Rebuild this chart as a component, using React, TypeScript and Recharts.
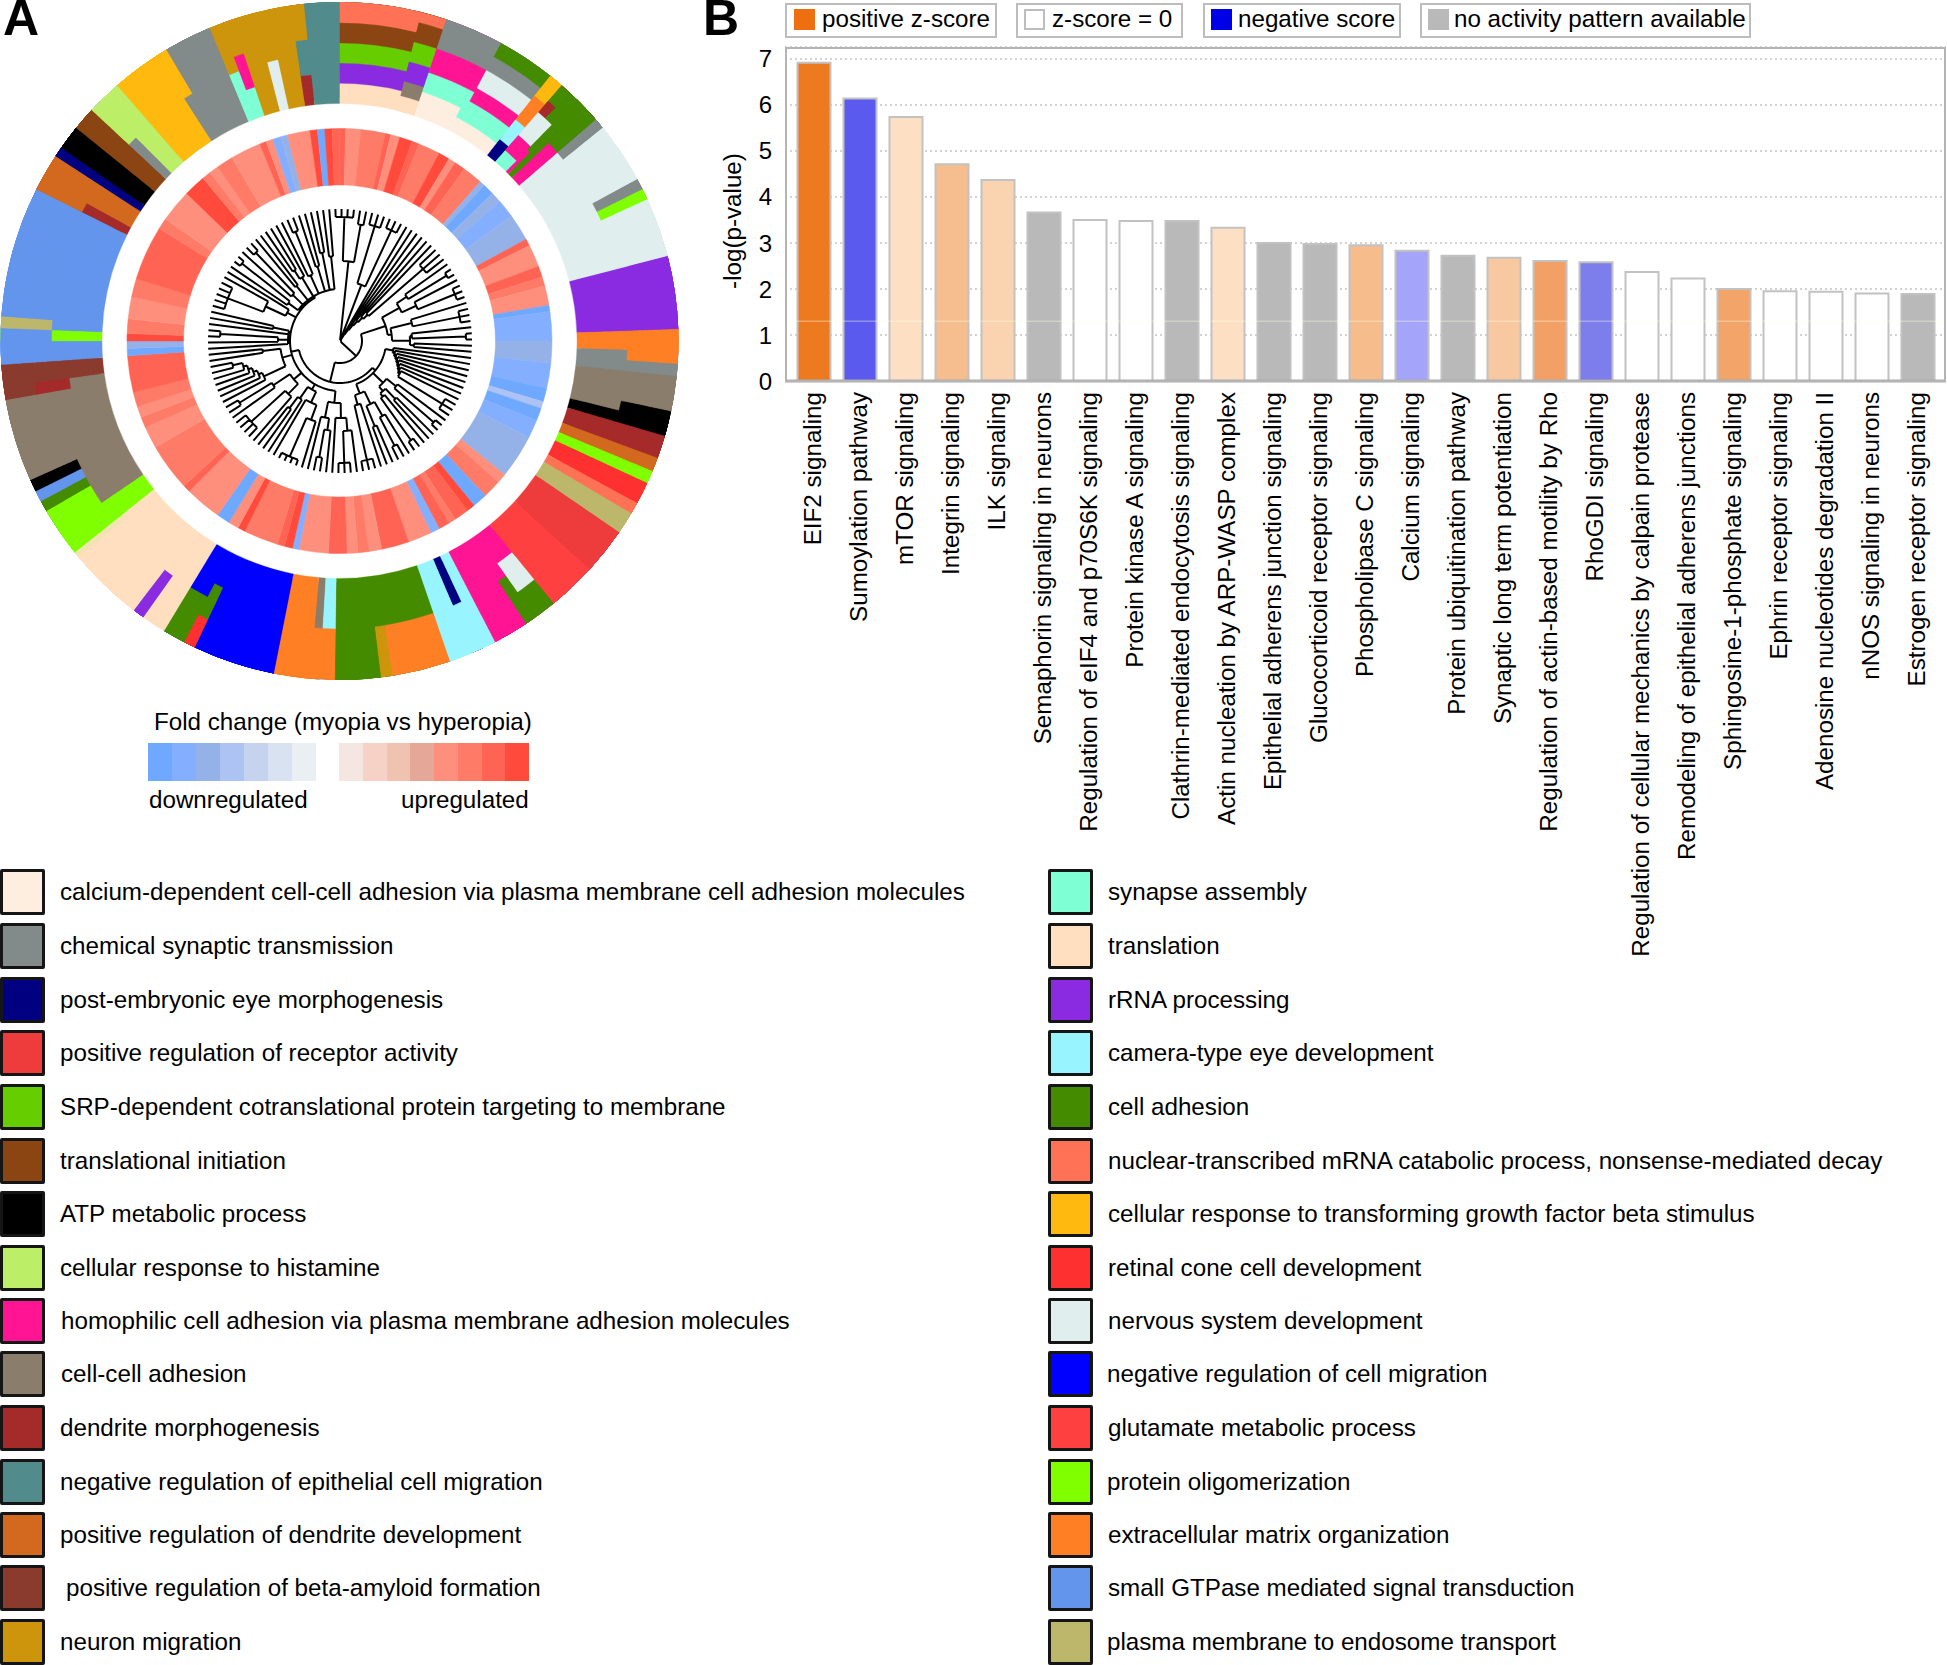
import React from 'react';
import { Bar, BarChart, CartesianGrid, Cell, Line, LineChart, Pie, PieChart, ReferenceLine, XAxis, YAxis } from 'recharts';

const FONT = '"Liberation Sans", Arial, sans-serif';
const TEXT_SIZE = 24.2;

// panel B
const pathways = [
  'EIF2 signaling', 'Sumoylation pathway', 'mTOR signaling', 'Integrin signaling', 'ILK signaling',
  'Semaphorin signaling in neurons', 'Regulation of eIF4 and p70S6K signaling', 'Protein kinase A signaling',
  'Clathrin-mediated endocytosis signaling', 'Actin nucleation by ARP-WASP complex',
  'Epithelial adherens junction signaling', 'Glucocorticoid receptor signaling', 'Phospholipase C signaling',
  'Calcium signaling', 'Protein ubiquitination pathway', 'Synaptic long term potentiation',
  'Regulation of actin-based motility by Rho', 'RhoGDI signaling', 'Regulation of cellular mechanics by calpain protease',
  'Remodeling of epithelial adherens junctions', 'Sphingosine-1-phosphate signaling', 'Ephrin receptor signaling',
  'Adenosine nucleotides degradation II', 'nNOS signaling in neurons', 'Estrogen receptor signaling',
];
const logP = [6.92, 6.14, 5.74, 4.71, 4.37, 3.66, 3.5, 3.48, 3.48, 3.33, 3.0, 2.98, 2.95, 2.83, 2.72, 2.68, 2.61, 2.58, 2.37, 2.23, 2.0, 1.95, 1.94, 1.9, 1.89];
const barFills = [
  '#ee7a20', '#5a5aee', '#fde0c4', '#f6bd8f', '#fad3b0', '#b9b9b9', '#ffffff', '#ffffff', '#b9b9b9', '#fde0c4',
  '#b9b9b9', '#b9b9b9', '#f6bc8c', '#a4a4fa', '#b9b9b9', '#f8c9a0', '#f3a066', '#7d7dec', '#ffffff', '#ffffff',
  '#f3a468', '#ffffff', '#ffffff', '#ffffff', '#b9b9b9',
];
const yTicks = [0, 1, 2, 3, 4, 5, 6, 7];
const barRows = pathways.map((name, i) => ({ name, value: logP[i] }));

const zLegend = [
  { label: 'positive z-score', fill: '#ee6f10', box: [785, 212], swatch: 794, text: 822 },
  { label: 'z-score = 0', fill: '#ffffff', box: [1016, 167], swatch: 1024, text: 1052 },
  { label: 'negative score', fill: '#0000e6', box: [1203, 198], swatch: 1211, text: 1238 },
  { label: 'no activity pattern available', fill: '#b9b9b9', box: [1420, 331], swatch: 1428, text: 1454 },
];

// GO terms
const termColors: Record<string, string> = {
  calcium: '#fdeee0', chemical: '#828a8a', postEmb: '#000080', recActivity: '#ee3b3b', srp: '#66cd00',
  transInit: '#8b4513', atp: '#000000', histamine: '#bcee68', homophilic: '#ff1493', cellCell: '#8b7d6b',
  dendrite: '#a52a2a', epiMig: '#528b8b', dendDev: '#d2691e', amyloid: '#8b3a2e', neuronMig: '#cd950c',
  synapse: '#7fffd4', translation: '#ffdfc0', rRNA: '#8a2be2', camera: '#98f5ff', cellAd: '#458b00',
  nmd: '#ff7256', tgf: '#ffb90f', cone: '#ff3030', nervous: '#e0eeee', negMig: '#0000ff',
  glutamate: '#ff4040', oligomer: '#7fff00', ecm: '#ff7f24', gtpase: '#6495ed', endosome: '#bdb76b',
  sliver: '#f3e3b2',
};
const leftTerms: [string, string][] = [
  ['calcium', 'calcium-dependent cell-cell adhesion via plasma membrane cell adhesion molecules'],
  ['chemical', 'chemical synaptic transmission'],
  ['postEmb', 'post-embryonic eye morphogenesis'],
  ['recActivity', 'positive regulation of receptor activity'],
  ['srp', 'SRP-dependent cotranslational protein targeting to membrane'],
  ['transInit', 'translational initiation'],
  ['atp', 'ATP metabolic process'],
  ['histamine', 'cellular response to histamine'],
  ['homophilic', 'homophilic cell adhesion via plasma membrane adhesion molecules'],
  ['cellCell', 'cell-cell adhesion'],
  ['dendrite', 'dendrite morphogenesis'],
  ['epiMig', 'negative regulation of epithelial cell migration'],
  ['dendDev', 'positive regulation of dendrite development'],
  ['amyloid', 'positive regulation of beta-amyloid formation'],
  ['neuronMig', 'neuron migration'],
];
const rightTerms: [string, string][] = [
  ['synapse', 'synapse assembly'],
  ['translation', 'translation'],
  ['rRNA', 'rRNA processing'],
  ['camera', 'camera-type eye development'],
  ['cellAd', 'cell adhesion'],
  ['nmd', 'nuclear-transcribed mRNA catabolic process, nonsense-mediated decay'],
  ['tgf', 'cellular response to transforming growth factor beta stimulus'],
  ['cone', 'retinal cone cell development'],
  ['nervous', 'nervous system development'],
  ['negMig', 'negative regulation of cell migration'],
  ['glutamate', 'glutamate metabolic process'],
  ['oligomer', 'protein oligomerization'],
  ['ecm', 'extracellular matrix organization'],
  ['gtpase', 'small GTPase mediated signal transduction'],
  ['endosome', 'plasma membrane to endosome transport'],
];
const rowCenters = [892, 946, 1000, 1053, 1107, 1161, 1214, 1268, 1321, 1374, 1428, 1482, 1535, 1588, 1642];
const labelNudge: Record<string, number> = { amyloid: 6, homophilic: 1, cellCell: 1, negMig: -1, oligomer: -1, endosome: -1 };

// outer ring: sector end angle (deg clockwise from 12 o'clock), then term + thickness from the inside out
const goSectors: [number, ...(string | number)[]][] = [
  [14, 'translation', 4, 'rRNA', 4, 'srp', 4, 'transInit', 4, 'nmd', 4],
  [18.4, 'translation', 3, 'cellCell', 3, 'rRNA', 4, 'srp', 4, 'transInit', 4, 'nmd', 2],
  [27.5, 'calcium', 5, 'synapse', 4, 'homophilic', 5, 'chemical', 6],
  [28.5, 'calcium', 3, 'synapse', 6, 'homophilic', 5, 'chemical', 6],
  [38.5, 'calcium', 3, 'synapse', 4, 'homophilic', 3, 'nervous', 4, 'chemical', 3, 'cellAd', 3],
  [41, 'postEmb', 4, 'camera', 5, 'ecm', 6, 'tgf', 5],
  [42.8, 'synapse', 3, 'homophilic', 4, 'nervous', 6, 'dendrite', 3, 'cellAd', 4],
  [44.5, 'synapse', 3, 'homophilic', 4, 'nervous', 6, 'cellAd', 7],
  [45.3, 'homophilic', 6, 'cellAd', 14],
  [46.6, 'cellAd', 20],
  [49.2, 'homophilic', 10, 'cellAd', 10],
  [51, 'nervous', 10, 'chemical', 10],
  [61.5, 'nervous', 20],
  [63.4, 'nervous', 10, 'chemical', 10],
  [65.3, 'nervous', 10, 'oligomer', 10],
  [75.5, 'nervous', 20],
  [88, 'rRNA', 20],
  [91.8, 'ecm', 20],
  [93.9, 'chemical', 10, 'ecm', 10],
  [96, 'chemical', 20],
  [102, 'cellCell', 20],
  [104, 'cellCell', 10, 'atp', 10],
  [106.3, 'atp', 20],
  [110.2, 'dendrite', 20],
  [112.6, 'dendDev', 20],
  [114.8, 'oligomer', 20],
  [118.6, 'cone', 20],
  [120.6, 'nmd', 20],
  [124.4, 'endosome', 20],
  [132.4, 'recActivity', 20],
  [140.8, 'glutamate', 20],
  [144.7, 'homophilic', 7, 'nervous', 7, 'cellAd', 6],
  [146.6, 'homophilic', 10, 'cellAd', 10],
  [152.7, 'homophilic', 20],
  [155, 'camera', 20],
  [156.8, 'postEmb', 10, 'camera', 10],
  [161, 'camera', 20],
  [171, 'cellAd', 10, 'ecm', 10],
  [173, 'cellAd', 10, 'neuronMig', 10],
  [180.8, 'cellAd', 20],
  [183.4, 'camera', 10, 'ecm', 10],
  [185, 'cellCell', 10, 'ecm', 10],
  [191.2, 'ecm', 20],
  [205.3, 'negMig', 20],
  [207.3, 'negMig', 7, 'cellAd', 7, 'cone', 6],
  [211.2, 'negMig', 10, 'cellAd', 10],
  [215.4, 'translation', 20],
  [217.4, 'translation', 10, 'rRNA', 10],
  [230.4, 'translation', 20],
  [231.4, 'translation', 8, 'sliver', 12],
  [235.8, 'oligomer', 20],
  [239.9, 'cellCell', 10, 'oligomer', 10],
  [241.8, 'cellCell', 10, 'cellAd', 10],
  [243.7, 'cellCell', 10, 'gtpase', 10],
  [245.8, 'cellCell', 10, 'atp', 10],
  [260, 'cellCell', 20],
  [262.2, 'cellCell', 7, 'dendrite', 7, 'amyloid', 6],
  [266, 'amyloid', 20],
  [270, 'gtpase', 20],
  [272.2, 'oligomer', 10, 'gtpase', 10],
  [274.2, 'gtpase', 10, 'endosome', 10],
  [296.6, 'gtpase', 20],
  [298.6, 'dendrite', 10, 'dendDev', 10],
  [303.1, 'dendDev', 20],
  [304.8, 'postEmb', 20],
  [309, 'atp', 20],
  [313, 'transInit', 20],
  [315, 'chemical', 10, 'histamine', 10],
  [319, 'histamine', 20],
  [327.4, 'tgf', 20],
  [329.3, 'chemical', 10, 'tgf', 10],
  [337.5, 'chemical', 20],
  [339.6, 'synapse', 10, 'neuronMig', 10],
  [341.6, 'synapse', 6, 'homophilic', 7, 'neuronMig', 7],
  [345.5, 'neuronMig', 20],
  [347.7, 'nervous', 10, 'neuronMig', 10],
  [351.7, 'neuronMig', 20],
  [354, 'dendrite', 6, 'epiMig', 7, 'neuronMig', 7],
  [360, 'epiMig', 20],
];

// inner ring: sector end angle, fold change level
const foldSectors: [number, number][] = [
  [1.7, 7], [5.8, 5], [12.5, 6], [14, 7], [16.5, 5], [20, 8], [22, 7], [28, 6], [31, 8], [33, 5], [36, 7], [41.5, 6],
  [43, -5], [46, -7], [49, -5], [54, -6], [61.4, -5], [63.3, 7], [69.4, 5], [72.5, 7], [75, 6], [80.3, 5],
  [82, -7], [90, -6], [96, -5], [103, -6], [106.6, -7], [108.5, -4], [112, -7], [117, -6], [129, -5],
  [131.7, 5], [136.7, 6], [140.7, -7], [143, 8], [147, 7], [149, 6], [152, 7], [154.5, -6], [161, 5], [168.5, 7],
  [172, 5], [175, 6], [178, 5], [183, 7], [191, 5], [192.8, -6], [195, 8], [197, 7], [206.5, 6], [208.5, 8],
  [211.4, 5], [215, -7], [225, 5], [227, 7], [240, 6], [246, 5], [249, 6], [252, 5], [256, 6], [266, 7],
  [268, -7], [270, -5], [272, 8], [276, 6], [282, 5], [287, 6], [302, 7], [305, 6], [314, 5], [320, 8], [322.5, 6],
  [325, 5], [329.6, 6], [338, 5], [339.8, 7], [341.7, 5], [344, -6], [345.8, -5], [352, 5], [354, 8], [356, -7],
  [358, 8], [360, 7],
];
const downColors = ['#6fa8ff', '#84aeff', '#94b2e8', '#adc3f3', '#c5d3ef', '#d8e2f0', '#e9eff3'];
const upColors = ['#f5e6e1', '#f6d2c6', '#f0c2b0', '#e5a898', '#fe8f7c', '#fe7b68', '#ff6353', '#ff4a3c'];

// dendrogram, leaves clockwise from the top: [branch radius, ...children], 0 is a leaf
type TreeNode = number | TreeNode[];
const cladeA: TreeNode = [80, [124, 0, 0, 0, 0], [118, 0, 0]];
const cladeB: TreeNode = [60, [120, 0, 0, 0], [122, 0, 0, 0]];
const cladeC: TreeNode = [8, 0, [14, 0, [20, 0, [26, 0, [32, 0, [38, 0, [110, 0, 0, 0]]]]]]];
const cladeD: TreeNode = [48, [68, [80, 0, [125, 0, 0]], [84, 0, [124, 0, 0, 0]]], [52, [74, 0, [122, 0, 0, 0]], [70, [72, 0, [126, 0, 0]], [74, 0, 0]]]];
const cladeP: TreeNode = [46,
  [54, 0, [56, 0, [58, 0, [60, 0, [62, 0, [64, 0, [66, 0, [68, 0, [120, 0, 0, 0]]]]]]]]],
  [60, [72, 0, [124, 0, 0]], [66, [80, 0, 0], [70, 0, [122, 0, 0]]]],
  [56, [70, [86, 0, [118, 0, 0]], [92, 0, 0]], [66, 0, [122, 0, 0, 0]]],
];
const cladeQ: TreeNode = [50,
  [62, [77, [90, 0, [122, 0, 0, 0]], 0], [78, [90, 0, [118, 0, 0]], 0]],
  [56, [68, [84, 0, [126, 0, 0, 0, 0]], 0], [70, 0, [84, 0, 0]]],
  [60, [74, 0, [120, 0, 0, 0, 0]], [80, 0, [118, 0, 0]]],
  [60, [84, 0, [88, 0, [92, 0, [96, 0, [100, 0, [110, 0, 0]]]]]], [78, 0, 0]],
  [52, 0, [62, 0, [120, 0, 0]], 0, [68, 0, 0]],
  [60, [82, [120, 0, 0, 0, 0, 0], 0], 0],
  [52, [64, 0, [125, 0, 0]], [66, 0, [122, 0, 0]], [70, 0, 0], [74, [84, 0, 0], 0], [72, 0, [118, 0, 0]], [78, 0, 0], [90, 0, 0], [85, 0, 0]],
];
const treeRoot: TreeNode = [1, cladeA, cladeB, cladeC, [22, cladeD, [42, cladeP, cladeQ]]];

const CX = 339.5;
const CY = 341;
const RING_INNER = 237.5;
const RING_OUTER = 338.5;
const RING_UNITS = 20;
const TREE_R = 132;
const TREE_BOX = 136;

const foldColor = (level: number) => (level < 0 ? downColors[level + 7] : upColors[level - 1]);

function bandSegments(band: number) {
  const segs: { value: number; term: string }[] = [];
  let prev = 0;
  goSectors.forEach(([end, ...stack]) => {
    let at = 0;
    let term = '';
    for (let i = 0; i < stack.length; i += 2) {
      at += stack[i + 1] as number;
      if (band < at) {
        term = stack[i] as string;
        break;
      }
    }
    const last = segs[segs.length - 1];
    if (last && last.term === term) last.value += end - prev;
    else segs.push({ value: end - prev, term });
    prev = end;
  });
  return segs;
}

const foldRows = foldSectors.map(([end, level], i) => ({ value: end - (i ? foldSectors[i - 1][0] : 0), level }));

function countLeaves(node: TreeNode): number {
  return Array.isArray(node) ? node.slice(1).reduce((s: number, k) => s + countLeaves(k), 0) : 1;
}

function treeLine(root: TreeNode) {
  const total = countLeaves(root);
  const pts: { x: number; y: number | null }[] = [];
  const polar = (r: number, deg: number) => {
    const a = (deg * Math.PI) / 180;
    return { x: r * Math.sin(a), y: r * Math.cos(a) };
  };
  const stroke = (a: { x: number; y: number }[]) => {
    pts.push(...a);
    pts.push({ x: a[a.length - 1].x, y: null });
  };
  let leaf = 0;
  const step = 360 / total;
  const anchors = new Map<TreeNode, number>();
  const place = (node: TreeNode): number => {
    let ang: number;
    if (Array.isArray(node)) {
      const kids = node.slice(1).map(place);
      ang = (kids[0] + kids[kids.length - 1]) / 2;
      anchors.set(node, ang);
    } else {
      ang = -2 + step * leaf++;
    }
    return ang;
  };
  place(root);
  leaf = 0;
  const draw = (node: TreeNode, parentR: number): number => {
    if (!Array.isArray(node)) {
      const ang = -2 + step * leaf++;
      stroke([polar(parentR, ang), polar(TREE_R, ang)]);
      return ang;
    }
    const r = node[0] as number;
    const ang = anchors.get(node) as number;
    stroke([polar(parentR, ang), polar(r, ang)]);
    const kids = node.slice(1).map((k) => draw(k, r));
    const from = kids[0];
    const to = kids[kids.length - 1];
    const arc = [];
    for (let d = from; d < to; d += 3) arc.push(polar(r, d));
    arc.push(polar(r, to));
    if (arc.length > 1) stroke(arc);
    return ang;
  };
  draw(root, 0);
  return pts;
}
const treePoints = treeLine(treeRoot);

function CategoryTick({ x, y, payload }: any) {
  return (
    <text transform={`translate(${x - 1.5},${y + 3}) rotate(-90)`} textAnchor="end" dominantBaseline="central" fontFamily={FONT} fontSize={TEXT_SIZE} fill="#000">
      {payload.value}
    </text>
  );
}

function YTitle() {
  return (
    <text transform="translate(32,221) rotate(-90)" textAnchor="middle" dominantBaseline="central" fontFamily={FONT} fontSize={TEXT_SIZE} fill="#000">
      -log(p-value)
    </text>
  );
}

const abs = (left: number, top: number, extra: React.CSSProperties = {}): React.CSSProperties => ({ position: 'absolute', left, top, ...extra });

function Label({ x, y, size = TEXT_SIZE, children, bold }: { x: number; y: number; size?: number; children: React.ReactNode; bold?: boolean }) {
  return (
    <div style={abs(x, y - 20, { font: `${bold ? 'bold ' : ''}${size}px/40px ${FONT}`, whiteSpace: 'nowrap', color: '#000' })}>{children}</div>
  );
}

function TermRows({ terms, swatchX, textX }: { terms: [string, string][]; swatchX: number; textX: number }) {
  return (
    <>
      {terms.map(([key, label], i) => (
        <React.Fragment key={key}>
          <div style={abs(swatchX, rowCenters[i] - 23, { width: 45, height: 46, boxSizing: 'border-box', border: '3px solid #151515', borderRadius: 2, background: termColors[key] })} />
          <Label x={textX + (labelNudge[key] || 0)} y={rowCenters[i]}>{label}</Label>
        </React.Fragment>
      ))}
    </>
  );
}

export default function App() {
  return (
    <div style={{ position: 'absolute', left: 0, top: 0, width: 1947, height: 1665, background: '#fff', overflow: 'hidden', fontFamily: FONT }}>
      <div style={abs(0, 0)}>
        <PieChart width={700} height={700} margin={{ top: 0, right: 0, bottom: 0, left: 0 }}>
          <Pie data={foldRows} dataKey="value" cx={CX} cy={CY} innerRadius={156} outerRadius={212.5} startAngle={90} endAngle={-270} isAnimationActive={false} legendType="none">
            {foldRows.map((row, i) => (
              <Cell key={i} fill={foldColor(row.level)} stroke={foldColor(row.level)} strokeWidth={0.5} />
            ))}
          </Pie>
          {/* each band runs out to the rim and the next one paints over it, so no seams between bands */}
          {Array.from({ length: RING_UNITS }, (_, band) => {
            const segs = bandSegments(band);
            const unit = (RING_OUTER - RING_INNER) / RING_UNITS;
            return (
              <Pie key={band} data={segs} dataKey="value" cx={CX} cy={CY} innerRadius={RING_INNER + band * unit} outerRadius={RING_OUTER} startAngle={90} endAngle={-270} isAnimationActive={false} legendType="none">
                {segs.map((s, i) => (
                  <Cell key={i} fill={termColors[s.term]} stroke={termColors[s.term]} strokeWidth={0.3} />
                ))}
              </Pie>
            );
          })}
        </PieChart>
      </div>

      <div style={abs(CX - TREE_BOX, CY - TREE_BOX)}>
        <LineChart width={TREE_BOX * 2} height={TREE_BOX * 2} data={treePoints} margin={{ top: 0, right: 0, bottom: 0, left: 0 }}>
          <XAxis type="number" dataKey="x" domain={[-TREE_BOX, TREE_BOX]} hide />
          <YAxis type="number" domain={[-TREE_BOX, TREE_BOX]} hide />
          <Line dataKey="y" stroke="#000" strokeWidth={2} dot={false} connectNulls={false} isAnimationActive={false} strokeLinejoin="miter" />
        </LineChart>
      </div>

      <Label x={3} y={18} size={50} bold>A</Label>
      <Label x={703} y={18} size={50} bold>B</Label>

      <Label x={154} y={722}>Fold change (myopia vs hyperopia)</Label>
      <div style={abs(148, 743, { display: 'flex', height: 38 })}>
        {downColors.map((c) => <div key={c} style={{ width: 24, background: c }} />)}
      </div>
      <div style={abs(339, 743, { display: 'flex', height: 38 })}>
        {upColors.map((c) => <div key={c} style={{ width: 23.75, background: c }} />)}
      </div>
      <Label x={149} y={800}>downregulated</Label>
      <Label x={401} y={800}>upregulated</Label>

      <div style={abs(700, 0)}>
        <BarChart width={1247} height={990} data={barRows} margin={{ top: 47, right: 1, bottom: 0, left: 0 }} barCategoryGap={0}>
          <CartesianGrid vertical={false} stroke="#c4c4c4" strokeDasharray="2 3" strokeWidth={1.5} />
          <XAxis dataKey="name" interval={0} height={609} tick={<CategoryTick />} tickLine={false} axisLine={{ stroke: '#a9a9a9', strokeWidth: 3 }} padding={{ left: 5.5, right: 5.5 }} />
          <YAxis width={85} domain={[0, 7.26]} ticks={yTicks} tickLine={false} tickSize={0} tickMargin={13} axisLine={false} tick={{ fill: '#000', fontSize: 24, fontFamily: FONT }}
            label={{ content: <YTitle /> }} />
          <Bar dataKey="value" barSize={33} stroke="#c2c2c2" strokeWidth={2} isAnimationActive={false}>
            {barRows.map((row, i) => <Cell key={row.name} fill={barFills[i]} />)}
          </Bar>
          <ReferenceLine y={1.3} stroke="#fffbe0" strokeOpacity={0.35} strokeWidth={1.5} />
        </BarChart>
      </div>
      <div style={abs(785, 47, { width: 1161, height: 335, boxSizing: 'border-box', border: '2px solid #b4b4b4', pointerEvents: 'none' })} />

      {zLegend.map((z) => (
        <React.Fragment key={z.label}>
          <div style={abs(z.box[0], 3, { width: z.box[1], height: 35, boxSizing: 'border-box', border: '2.5px solid #bdbdbd' })} />
          <div style={abs(z.swatch, 9, { width: 21, height: 21, boxSizing: 'border-box', background: z.fill, border: z.fill === '#ffffff' ? '2px solid #bdbdbd' : 'none' })} />
          <Label x={z.text} y={19}>{z.label}</Label>
        </React.Fragment>
      ))}

      <TermRows terms={leftTerms} swatchX={0} textX={60} />
      <TermRows terms={rightTerms} swatchX={1048} textX={1108} />
    </div>
  );
}
